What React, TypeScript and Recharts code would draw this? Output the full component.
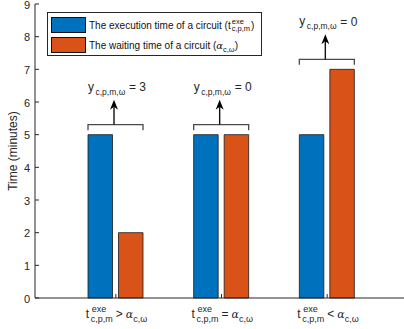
import { BarChart, Bar, XAxis, YAxis, Legend, LabelList } from 'recharts';

const categories = ['gt', 'eq', 'lt'];
const relations = ['>', '=', '<'];
const exeTimes = [5, 5, 5];
const waitTimes = [2, 5, 7];
const yValues = [3, 0, 0];
const yTicks = [0, 1, 2, 3, 4, 5, 6, 7, 8, 9];

const data = categories.map((c, i) => ({ name: c, exe: exeTimes[i], wait: waitTimes[i] }));

const BLUE = '#0072BD';
const ORANGE = '#D95319';
const AXIS = '#262626';
const FONT = '"Liberation Sans", Arial, Helvetica, sans-serif';
const GREEK = "'DejaVu Serif', serif";
const GAP = 6;

function LeftTick(props: any) {
  const { x, y, payload } = props;
  return (
    <g>
      <line x1={x + 5} y1={y} x2={x + 9} y2={y} stroke={AXIS} strokeWidth={1} />
      <text x={x} y={y} dy={4.5} textAnchor="end" fontSize={11} fill={AXIS} fontFamily={FONT}>
        {payload.value}
      </text>
    </g>
  );
}

function RightTick(props: any) {
  const { x, y } = props;
  return <line x1={x} y1={y} x2={x - 4} y2={y} stroke={AXIS} strokeWidth={1} />;
}

function TopTick(props: any) {
  const { x, y } = props;
  return <line x1={x} y1={y} x2={x} y2={y + 4} stroke={AXIS} strokeWidth={1} />;
}

function BottomTick(props: any) {
  const { x, y, index } = props;
  const base = y + 20;
  const t = { fill: AXIS, fontFamily: FONT };
  return (
    <g>
      <line x1={x} y1={y} x2={x} y2={y - 4} stroke={AXIS} strokeWidth={1} />
      <text x={x - 30} y={base} fontSize={12} {...t}>t</text>
      <text x={x - 24} y={base - 6} fontSize={9} {...t}>exe</text>
      <text x={x - 25} y={base + 3.5} fontSize={9} {...t}>c,p,m</text>
      <text x={x} y={base} fontSize={12} {...t}>{relations[index]}</text>
      <text x={x + 10} y={base} fontSize={11} {...t} fontFamily={GREEK} fontStyle="italic">α</text>
      <text x={x + 17.5} y={base + 3.5} fontSize={9} {...t}>c,ω</text>
    </g>
  );
}

function Bracket(props: any) {
  const { x, y, width, height, value, index } = props;
  if (!value) return null;
  const ppu = height / value;
  const bottom = y + height;
  const top = bottom - Math.max(exeTimes[index], waitTimes[index]) * ppu;
  const left = x - GAP - width;
  const right = x + width;
  const by = top - 10;
  const ax = (left + right) / 2 - 1.5;
  const tip = by - 25;
  return (
    <g>
      <polyline
        points={`${left},${by + 5.5} ${left},${by} ${right},${by} ${right},${by + 5.5}`}
        fill="none"
        stroke="#4a4a4a"
        strokeWidth={1.3}
      />
      <line x1={ax} y1={by} x2={ax} y2={tip + 6} stroke="#111" strokeWidth={1.4} />
      <polygon
        points={`${ax},${tip} ${ax - 4},${tip + 10} ${ax},${tip + 7} ${ax + 4},${tip + 10}`}
        fill="#000"
      />
      <text x={left} y={by - 34} fontSize={12} fill={AXIS} fontFamily={FONT}>y</text>
      <text x={left + 7.5} y={by - 30} fontSize={8.5} fill={AXIS} fontFamily={FONT}>c,p,m,ω</text>
      <text x={left + 41} y={by - 33.5} fontSize={12} fill={AXIS} fontFamily={FONT}>
        = {yValues[index]}
      </text>
    </g>
  );
}

function LegendBox() {
  const rows = [
    { color: BLUE, text: 'The execution time of a circuit (t', kind: 'exe' },
    { color: ORANGE, text: 'The waiting time of a circuit (', kind: 'alpha' },
  ];
  return (
    <div
      style={{
        width: 215,
        height: 44,
        border: `1px solid ${AXIS}`,
        background: '#fff',
        fontFamily: FONT,
        fontSize: 10,
        color: '#111',
        boxSizing: 'border-box',
        paddingTop: 2,
        paddingLeft: 3,
      }}
    >
      {rows.map((r) => (
        <div key={r.kind} style={{ display: 'flex', alignItems: 'center', height: 20 }}>
          <div style={{ width: 33, height: 13.5, background: r.color, border: '1px solid #111', marginRight: 3 }} />
          <span style={{ whiteSpace: 'nowrap' }}>{r.text}</span>
          {r.kind === 'exe' ? (
            <span style={{ display: 'inline-flex', flexDirection: 'column', fontSize: 7.5, lineHeight: '7.5px', margin: '0 1px' }}>
              <span>exe</span>
              <span>c,p,m</span>
            </span>
          ) : (
            <span style={{ whiteSpace: 'nowrap' }}>
              <span style={{ fontFamily: GREEK, fontStyle: 'italic' }}>α</span>
              <span style={{ fontSize: 7.5, position: 'relative', top: 3 }}>c,ω</span>
            </span>
          )}
          <span>)</span>
        </div>
      ))}
    </div>
  );
}

export default function App() {
  return (
    <div style={{ position: 'absolute', left: 0, top: 0, width: 404, height: 329, overflow: 'hidden', background: '#fff' }}>
      <BarChart
        width={412}
        height={329}
        data={data}
        margin={{ top: 4, right: 6, left: 0, bottom: 0 }}
        barSize={24.5}
        barGap={GAP}
      >
        <XAxis
          dataKey="name"
          height={31}
          padding={{ left: 28, right: 26 }}
          axisLine={{ stroke: AXIS }}
          tickLine={false}
          tickSize={0}
          tickMargin={0}
          tick={<BottomTick />}
          interval={0}
        />
        <XAxis
          xAxisId="top"
          orientation="top"
          dataKey="name"
          height={0}
          padding={{ left: 28, right: 26 }}
          axisLine={{ stroke: AXIS }}
          tickLine={false}
          tickSize={0}
          tickMargin={0}
          tick={<TopTick />}
          interval={0}
        />
        <YAxis
          width={35}
          domain={[0, 9]}
          ticks={yTicks}
          axisLine={{ stroke: AXIS }}
          tickLine={false}
          tickSize={0}
          tickMargin={5}
          tick={<LeftTick />}
          interval={0}
          label={{
            value: 'Time (minutes)',
            angle: -90,
            position: 'insideLeft',
            offset: 13,
            style: { textAnchor: 'middle', fontSize: 12, fill: AXIS, fontFamily: FONT },
          }}
        />
        <YAxis
          yAxisId="right"
          orientation="right"
          width={0}
          domain={[0, 9]}
          ticks={yTicks}
          axisLine={{ stroke: AXIS }}
          tickLine={false}
          tickSize={0}
          tickMargin={0}
          tick={<RightTick />}
          interval={0}
        />
        <Legend
          layout="vertical"
          align="center"
          verticalAlign="middle"
          wrapperStyle={{ top: 12, left: 47, width: 216 }}
          content={() => <LegendBox />}
        />
        <Bar dataKey="exe" fill={BLUE} stroke="#1a1a1a" strokeWidth={0.8} isAnimationActive={false} />
        <Bar dataKey="wait" fill={ORANGE} stroke="#1a1a1a" strokeWidth={0.8} isAnimationActive={false}>
          <LabelList dataKey="wait" content={<Bracket />} />
        </Bar>
      </BarChart>
    </div>
  );
}
